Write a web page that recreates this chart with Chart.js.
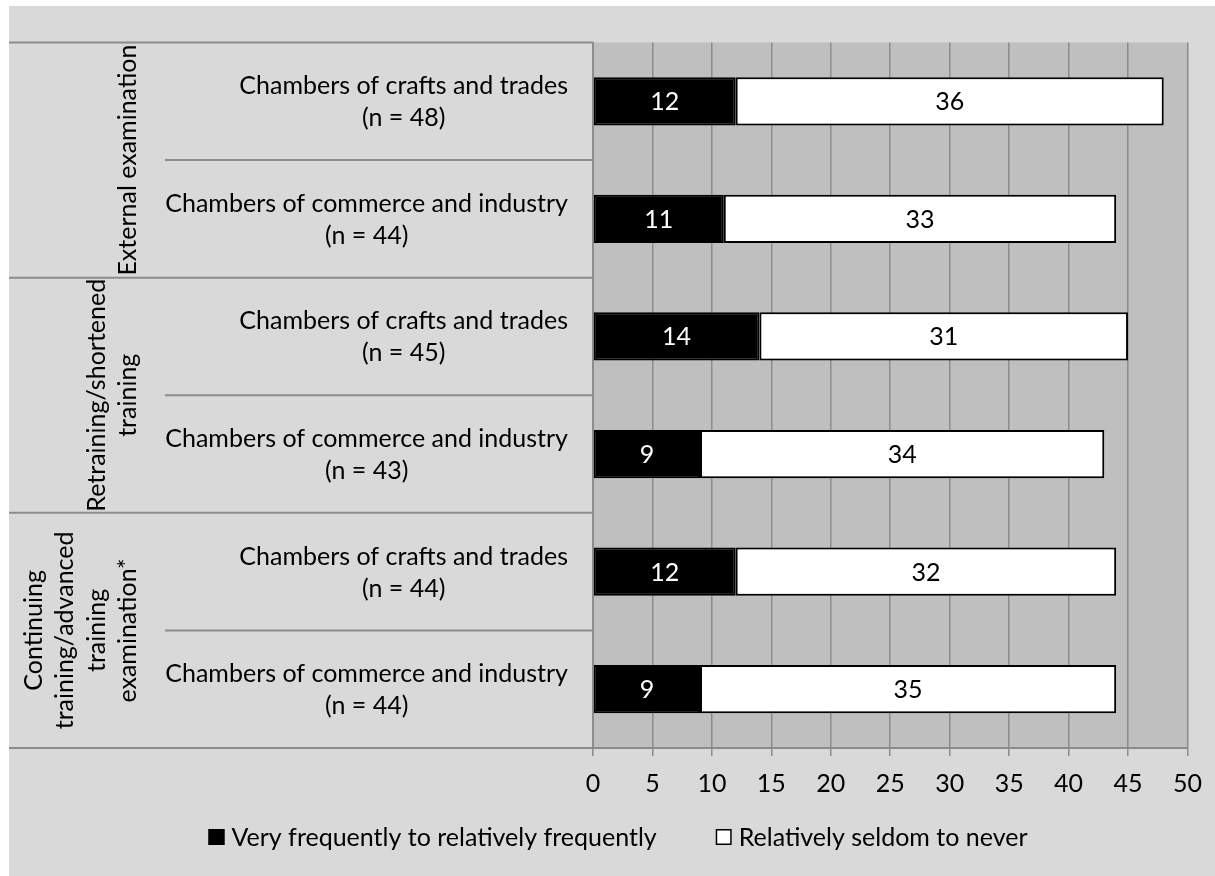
<!DOCTYPE html>
<html>
<head>
<meta charset="utf-8">
<script src="https://cdn.jsdelivr.net/npm/chart.js@4/dist/chart.umd.min.js"></script>
<style>
html,body{margin:0;padding:0;background:#ffffff;}
#wrap{position:absolute;left:9px;top:6px;width:1206px;height:870px;background:#d9d9d9;}
canvas{display:block;}
</style>
</head>
<body>
<div id="wrap"><canvas id="c" width="1206" height="870"></canvas></div>
<script>
// ---- data ----
const categories = [
  ["Chambers of crafts and trades", "(n = 48)"],
  ["Chambers of commerce and industry", "(n = 44)"],
  ["Chambers of crafts and trades", "(n = 45)"],
  ["Chambers of commerce and industry", "(n = 43)"],
  ["Chambers of crafts and trades", "(n = 44)"],
  ["Chambers of commerce and industry", "(n = 44)"]
];
const groupLabels = [
  ["External examination"],
  ["Retraining/shortened", "training"],
  ["Continuing", "training/advanced", "training", "examination*"]
];
const groupSizes = [2, 2, 2];
const seriesNames = ["Very frequently to relatively frequently", "Relatively seldom to never"];
const frequentValues = [12, 11, 14, 9, 12, 9];
const seldomValues = [36, 33, 31, 34, 32, 35];
const xMin = 0, xMax = 50, xStep = 5;

// ---- style ----
const FONT = "Lato";
const FS = 25;
const LINE = "#8c8c8c";

function capMid(ctx) {
  return ctx.measureText("H").actualBoundingBoxAscent / 2;
}

const decorPlugin = {
  id: "decor",
  beforeDraw(chart) {
    const {ctx, chartArea: a} = chart;
    ctx.save();
    ctx.fillStyle = "#bfbfbf";
    ctx.fillRect(a.left, a.top, a.right - a.left, a.bottom - a.top);
    ctx.restore();
  },
  afterDatasetsDraw(chart) {
    const ctx = chart.ctx;
    ctx.save();
    ctx.font = FS + "px " + FONT;
    ctx.textAlign = "center";
    ctx.textBaseline = "alphabetic";
    const cm = capMid(ctx);
    chart.data.datasets.forEach((ds, i) => {
      const meta = chart.getDatasetMeta(i);
      ctx.fillStyle = i === 0 ? "#ffffff" : "#000000";
      meta.data.forEach((bar, j) => {
        const p = bar.getProps(["x", "y", "base"], true);
        ctx.fillText(String(ds.data[j]), (p.x + p.base) / 2, p.y + cm);
      });
    });
    ctx.restore();
  },
  afterDraw(chart) {
    const {ctx, chartArea: a} = chart;
    const ys = chart.scales.y;
    const n = categories.length;
    const step = (ys.getPixelForValue(n - 1) - ys.getPixelForValue(0)) / (n - 1);
    const top = (i) => ys.getPixelForValue(i) - step / 2;
    ctx.save();
    // separators
    ctx.strokeStyle = LINE;
    ctx.lineWidth = 2;
    let idx = 0;
    const subLeft = 156;
    groupSizes.forEach((gs, g) => {
      ctx.beginPath();
      ctx.moveTo(0, top(idx)); ctx.lineTo(a.left, top(idx)); ctx.stroke();
      for (let k = 1; k < gs; k++) {
        ctx.beginPath();
        ctx.moveTo(subLeft, top(idx + k)); ctx.lineTo(a.left, top(idx + k)); ctx.stroke();
      }
      idx += gs;
    });
    ctx.beginPath();
    ctx.moveTo(0, top(n)); ctx.lineTo(a.left, top(n)); ctx.stroke();

    // category labels
    ctx.font = FS + "px " + FONT;
    ctx.fillStyle = "#000000";
    ctx.textAlign = "center";
    ctx.textBaseline = "alphabetic";
    const cm = capMid(ctx);
    const right = a.left - 25;
    const lh = 32;
    categories.forEach((lines, i) => {
      const w = Math.max(...lines.map(l => ctx.measureText(l).width));
      const cx = right - w / 2;
      const cy = ys.getPixelForValue(i);
      lines.forEach((l, k) => {
        const ly = cy + (k - (lines.length - 1) / 2) * lh;
        ctx.fillText(l, cx, ly + cm);
      });
    });

    // group labels (rotated)
    idx = 0;
    const lastX = 118;
    const glh = 31.5;
    groupLabels.forEach((lines, g) => {
      const gs = groupSizes[g];
      const yc = (top(idx) + top(idx + gs)) / 2;
      lines.forEach((l, k) => {
        const x = lastX - (lines.length - 1 - k) * glh;
        ctx.save();
        ctx.translate(x, yc);
        ctx.rotate(-Math.PI / 2);
        ctx.fillText(l, 0, cm);
        ctx.restore();
      });
      idx += gs;
    });

    // legend
    const box = 16, gapBT = 7, gapItems = 59;
    const items = chart.data.datasets.map(ds => ({label: ds.label, fill: ds.backgroundColor, w: ctx.measureText(ds.label).width}));
    const total = items.reduce((s, it) => s + box + gapBT + it.w, 0) + gapItems * (items.length - 1);
    let x = chart.width / 2 + 6 - total / 2;
    const ly = 831;
    ctx.textAlign = "left";
    items.forEach(it => {
      ctx.fillStyle = it.fill;
      ctx.fillRect(x, ly - box / 2, box, box);
      ctx.strokeStyle = "#000000";
      ctx.lineWidth = 1.5;
      ctx.strokeRect(x + 0.75, ly - box / 2 + 0.75, box - 1.5, box - 1.5);
      ctx.fillStyle = "#000000";
      ctx.fillText(it.label, x + box + gapBT, ly + cm);
      x += box + gapBT + it.w + gapItems;
    });
    ctx.restore();
  }
};

Chart.defaults.font.family = FONT;
Chart.defaults.font.size = FS;
Chart.defaults.color = "#000000";

new Chart(document.getElementById("c"), {
  type: "bar",
  data: {
    labels: categories,
    datasets: [
      {label: seriesNames[0], data: frequentValues, backgroundColor: "#000000", borderColor: "#000000", borderWidth: 2, borderSkipped: false, barPercentage: 0.41, categoryPercentage: 1},
      {label: seriesNames[1], data: seldomValues, backgroundColor: "#ffffff", borderColor: "#000000", borderWidth: 2, borderSkipped: false, barPercentage: 0.41, categoryPercentage: 1}
    ]
  },
  options: {
    indexAxis: "y",
    responsive: false,
    animation: false,
    devicePixelRatio: 1,
    layout: {padding: {top: 36.5, right: 26, bottom: 68, left: 0}},
    plugins: {legend: {display: false}, tooltip: {enabled: false}},
    scales: {
      x: {
        stacked: true,
        min: xMin, max: xMax,
        ticks: {stepSize: xStep, padding: 13, color: "#000000", font: {size: FS}},
        grid: {color: LINE, lineWidth: 1.5, tickLength: 8, drawTicks: true},
        border: {display: true, color: LINE, width: 2},
        afterFit(s) { s.height = 60; }
      },
      y: {
        stacked: true,
        ticks: {display: false},
        grid: {display: false},
        border: {display: true, color: LINE, width: 2},
        afterFit(s) { s.width = 584; }
      }
    }
  },
  plugins: [decorPlugin]
});
</script>
</body>
</html>
